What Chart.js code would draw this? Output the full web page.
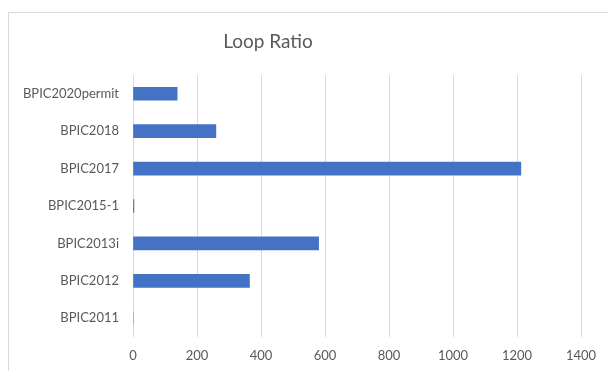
<!DOCTYPE html>
<html>
<head>
<meta charset="utf-8">
<script src="https://cdn.jsdelivr.net/npm/chart.js@4/dist/chart.umd.min.js"></script>
<style>
  html, body { margin: 0; padding: 0; background: #fff; overflow: hidden; }
  #wrap { position: relative; width: 608px; height: 371px; }
  #frame { position: absolute; left: 8px; top: 12px; width: 700px; height: 500px;
           border-left: 1px solid #d9d9d9; border-top: 1px solid #d9d9d9; }
  canvas { position: absolute; left: 0; top: 0; }
</style>
</head>
<body>
<div id="wrap">
  <div id="frame"></div>
  <canvas id="c" width="608" height="371"></canvas>
</div>
<script>
// Event logs, listed top to bottom
const categories = ['BPIC2020permit', 'BPIC2018', 'BPIC2017', 'BPIC2015-1', 'BPIC2013i', 'BPIC2012', 'BPIC2011'];
const loopRatio = [138, 259, 1212, 3, 580, 364, 0];
const xTicks = [0, 200, 400, 600, 800, 1000, 1200, 1400];
const chartTitle = 'Loop Ratio';

const FONT = 'Lato, Carlito, Calibri, sans-serif';
const TEXT = '#595959';

// Title drawn above the plot, centred on the chart frame
const titlePlugin = {
  id: 'frameTitle',
  afterDraw(chart) {
    const ctx = chart.ctx;
    ctx.save();
    ctx.fillStyle = TEXT;
    ctx.font = '19px ' + FONT;
    ctx.textAlign = 'center';
    ctx.textBaseline = 'middle';
    ctx.fillText(chartTitle, 268, 42);
    ctx.restore();
  }
};

new Chart(document.getElementById('c'), {
  type: 'bar',
  data: {
    labels: categories,
    datasets: [{
      data: loopRatio,
      backgroundColor: '#4472C4',
      borderWidth: 0,
      barThickness: 13
    }]
  },
  options: {
    indexAxis: 'y',
    responsive: false,
    animation: false,
    events: [],
    layout: { padding: { top: 75, right: 27, bottom: 0, left: 0 } },
    plugins: { legend: { display: false }, tooltip: { enabled: false }, title: { display: false } },
    scales: {
      x: {
        min: xTicks[0],
        max: xTicks[xTicks.length - 1],
        afterBuildTicks(scale) { scale.ticks = xTicks.map(v => ({ value: v })); },
        afterFit(scale) { scale.height = 34; },
        border: { display: false },
        grid: { color: '#d9d9d9', lineWidth: 1, drawTicks: false },
        ticks: { color: TEXT, font: { family: FONT, size: 13 }, padding: 11, maxRotation: 0,
                 callback: v => String(v) }
      },
      y: {
        afterFit(scale) { scale.width = 133; },
        border: { display: false },
        grid: { display: false, drawTicks: false },
        ticks: { color: TEXT, font: { family: FONT, size: 13 }, padding: 14 }
      }
    }
  },
  plugins: [titlePlugin]
});
</script>
</body>
</html>
